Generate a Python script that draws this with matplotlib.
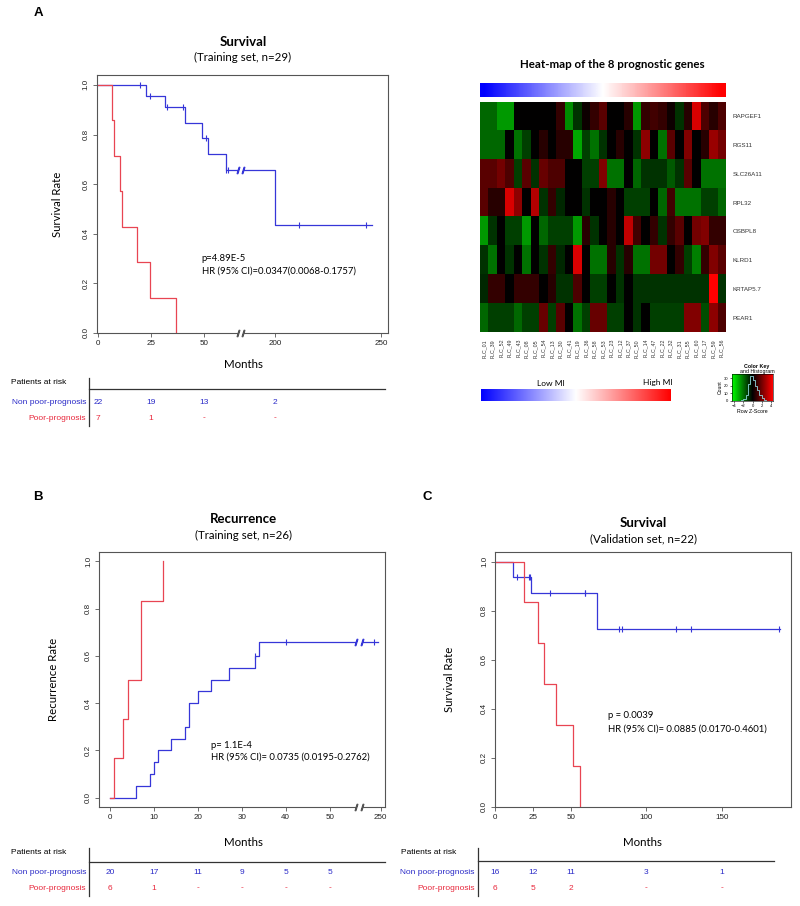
import numpy as np
import matplotlib.pyplot as plt
from matplotlib.colors import LinearSegmentedColormap
from matplotlib.transforms import blended_transform_factory

plt.rcParams['font.family'] = ['Liberation Sans', 'DejaVu Sans']

W, H = 800, 906
BLUE = '#3636d8'
RED = '#e84552'
TXT_BLUE = '#2a2ac8'
TXT_RED = '#e8283c'
GREY = '#555555'

# ---------------- data ----------------
# A: survival, training set
a_non_t = [0, 22.6, 31.9, 40.9, 48.9, 52.0, 60.2, 200, 245.6]
a_non_s = [1.0, 0.955, 0.909, 0.848, 0.788, 0.722, 0.657, 0.437, 0.437]
a_non_cens = [19.8, 24.8, 32.5, 40.1, 50.9, 60.6, 61.2, 211, 243]
a_poor_t = [0, 6.6, 7.7, 10.7, 11.6, 18.7, 24.8, 36.8]
a_poor_s = [1.0, 0.857, 0.714, 0.571, 0.429, 0.286, 0.143, 0.0]
a_ticks = [0, 25, 50, 200, 250]
a_risk_at = [0, 25, 50, 200]
a_risk_non = ['22', '19', '13', '2']
a_risk_poor = ['7', '1', '-', '-']

# B: recurrence, training set
b_non_t = [0, 6, 9, 10, 11, 14, 17, 18, 20, 23, 27, 33, 34, 249.4]
b_non_r = [0, 0.05, 0.10, 0.15, 0.20, 0.25, 0.30, 0.40, 0.45, 0.50, 0.55, 0.60, 0.658, 0.658]
b_non_cens = [33, 40, 248.6]
b_poor_t = [0, 1, 3, 4, 7, 12]
b_poor_r = [0, 0.167, 0.333, 0.5, 0.833, 1.0]
b_ticks = [0, 10, 20, 30, 40, 50, 250]
b_risk_at = [0, 10, 20, 30, 40, 50]
b_risk_non = ['20', '17', '11', '9', '5', '5']
b_risk_poor = ['6', '1', '-', '-', '-', '-']

# C: survival, validation set
c_non_t = [0, 11.7, 23.8, 67.5, 188.5]
c_non_s = [1.0, 0.9375, 0.870, 0.725, 0.725]
c_non_cens = [14.3, 22.3, 23.2, 36.6, 59.2, 59.6, 81.7, 84.1, 119.6, 129.6, 187.9]
c_poor_t = [0, 19.4, 28.3, 32.5, 40.6, 51.4, 56.5]
c_poor_s = [1.0, 0.833, 0.667, 0.5, 0.333, 0.167, 0.0]
c_ticks = [0, 25, 50, 100, 150]
c_risk_at = [0, 25, 50, 100, 150]
c_risk_non = ['16', '12', '11', '3', '1']
c_risk_poor = ['6', '5', '2', '-', '-']

# heat-map of the 8 prognostic genes
samples = ['FLC_01', 'FLC_39', 'FLC_52', 'FLC_49', 'FLC_43', 'FLC_08', 'FLC_05', 'FLC_54',
           'FLC_13', 'FLC_30', 'FLC_41', 'FLC_19', 'FLC_36', 'FLC_58', 'FLC_53', 'FLC_23',
           'FLC_12', 'FLC_37', 'FLC_50', 'FLC_14', 'FLC_47', 'FLC_22', 'FLC_32', 'FLC_31',
           'FLC_55', 'FLC_60', 'FLC_17', 'FLC_59', 'FLC_56']
genes = ['RAPGEF1', 'RGS11', 'SLC26A11', 'RPL32', 'OSBPL8', 'KLRD1', 'KRTAP5.7', 'PEAR1']
rapgef1 = [-0.4, -0.4, -0.6, -0.6, 0, 0, 0, 0, 0, 0.2, -0.55, -0.2, 0.05, 0.2, 0.35, 0, 0, 0.15,
           -0.6, 0.2, 0.25, 0.2, 0.05, -0.2, 0.15, 0.85, 0.3, 0.15, 0.3]
rgs11 = [-0.4, -0.4, -0.4, 0, -0.45, -0.25, 0, 0.15, 0, 0.15, 0.15, -0.65, -0.25, -0.45, -0.2, 0,
         0.15, 0, -0.2, 0.55, 0, -0.45, 0.35, 0, 0.5, 0, 0.15, 0.6, 0.45]
slc26a11 = [0.35, 0.35, 0.45, 0.3, -0.25, 0.35, -0.2, 0.4, 0.3, 0.3, 0, 0, -0.25, -0.25, 0.5,
            -0.45, -0.45, 0, -0.4, -0.2, -0.2, -0.2, -0.35, -0.2, 0.35, 0, -0.45, -0.45, -0.45]
rpl32 = [0.35, 0.15, 0.15, 0.85, 0.55, 0, 0.7, -0.2, 0.2, -0.15, 0, 0, -0.2, 0, 0, 0.15, 0,
         -0.25, -0.25, -0.25, 0, -0.4, 0.25, -0.45, -0.45, -0.45, -0.25, -0.25, -0.4]
osbpl8 = [-0.6, -0.2, 0, -0.25, -0.25, -0.6, 0, -0.4, -0.25, -0.25, -0.25, -0.6, 0.15, -0.2, 0,
          0.15, 0, 0.75, 0.25, 0, 0.2, -0.2, 0.2, 0.35, 0, 0.45, 0.5, 0.2, 0.2]
klrd1 = [-0.2, -0.45, 0, -0.2, 0, -0.45, 0, -0.2, 0.2, -0.15, 0, 0.85, 0, -0.45, -0.45, 0.15,
         -0.2, 0.15, -0.45, -0.45, 0.45, 0.45, 0, 0.2, -0.25, -0.5, 0.2, 0.5, 0.35]
krtap57 = [-0.15, 0.2, 0.2, 0, 0.2, 0.2, 0.2, 0, 0.15, -0.2, -0.2, 0.3, 0, -0.25, -0.25, 0, -0.2,
           0, -0.2, -0.2, -0.2, -0.2, -0.2, -0.2, -0.2, -0.2, -0.2, 1.0, -0.2]
pear1 = [-0.4, -0.25, -0.25, -0.25, -0.4, -0.25, -0.25, 0.4, -0.25, 0.35, 0, -0.45, -0.25, 0.4,
         0.4, -0.25, -0.25, 0, -0.2, 0, -0.25, -0.25, -0.25, -0.25, 0.5, 0.5, -0.3, 0.55, 0.3]
# colour key histogram (row z-scores)
key_edges = [-3, -2.5, -2, -1.5, -1, -0.5, 0, 0.5, 1, 1.5, 2, 2.5, 3]
key_counts = [0, 1, 3, 8, 22, 33, 28, 20, 14, 8, 4, 1]


# ---------------- helpers ----------------
def rect(x0, y0, x1, y1):
    return [x0 / W, 1 - y1 / H, (x1 - x0) / W, (y1 - y0) / H]


def ftext(x, y, s, **kw):
    fig.text(x / W, 1 - y / H, s, **kw)


def fline(x0, x1, y0, y1):
    fig.add_artist(plt.Line2D([x0 / W, x1 / W], [1 - y0 / H, 1 - y1 / H],
                              transform=fig.transFigure, color='#333333', lw=0.9))


def broken(lo, shift):
    def fwd(t):
        t = np.asarray(t, float)
        return np.where(t <= lo, t, np.where(t >= lo + shift, t - shift, lo))

    def inv(u):
        u = np.asarray(u, float)
        return np.where(u <= lo, u, u + shift)
    return fwd, inv


def step_at(ts, vs, x):
    i = np.searchsorted(ts, x, side='right') - 1
    return np.asarray(vs)[i]


def km(ax, t, s, cens, color):
    ax.step(t, s, where='post', color=color, lw=0.9)
    if cens:
        ax.plot(cens, [step_at(t, s, c) for c in cens], ls='none', marker='|',
                ms=5, mew=0.8, color=color)


def style(ax, ylabel, ylab_x, ticks):
    for sp in ax.spines.values():
        sp.set_color(GREY)
        sp.set_linewidth(0.8)
    ax.tick_params(length=3, width=0.6, color=GREY, labelsize=5.8, pad=2, labelcolor='#222222')
    ax.set_yticks([0, 0.2, 0.4, 0.6, 0.8, 1.0])
    ax.set_yticklabels(['0.0', '0.2', '0.4', '0.6', '0.8', '1.0'], rotation=90, va='center')
    ax.set_xticks(ticks)
    ax.set_xticklabels([str(v) for v in ticks])
    ax.set_ylabel(ylabel, family='Lato', fontsize=8.2)
    ax.yaxis.set_label_coords(ylab_x, 0.5)


def break_mark(ax, t0, t1, y, color):
    ax.plot([t0, t1], [y, y], color='white', lw=3, zorder=5, clip_on=False,
            solid_capstyle='butt')
    ax.plot([t0, t1], [y, y], ls='none', marker='$/$', ms=4.5, color=color,
            zorder=6, clip_on=False)


def risk_table(ax, lab_x, lab_right, vline_x, line_x1, y_head, y_hline, at, non, poor):
    ftext(lab_x, y_head, 'Patients at risk', fontsize=6, va='center', ha='left')
    fline(vline_x, vline_x, y_head - 5, y_head + 43)
    fline(vline_x, line_x1, y_hline, y_hline)
    ftext(lab_right, y_head + 20, 'Non poor-prognosis', fontsize=6, color=TXT_BLUE,
          ha='right', va='center')
    ftext(lab_right, y_head + 35, 'Poor-prognosis', fontsize=6, color=TXT_RED,
          ha='right', va='center')
    tr = blended_transform_factory(ax.transData, fig.transFigure)
    for x, n, p in zip(at, non, poor):
        ax.text(x, 1 - (y_head + 20) / H, n, transform=tr, fontsize=6, color=TXT_BLUE,
                ha='center', va='center')
        ax.text(x, 1 - (y_head + 35) / H, p, transform=tr, fontsize=6, color=TXT_RED,
                ha='center', va='center')


fig = plt.figure(figsize=(8, 9.06), dpi=100)

# ---------------- panel A: survival ----------------
ftext(38, 13, 'A', fontsize=9.5, fontweight='bold', ha='center', va='center')
ftext(243, 42, 'Survival', family='Lato', fontsize=9.5, fontweight='bold', ha='center', va='center')
ftext(243, 57, '(Training set, n=29)', family='Lato', fontsize=8.3, ha='center', va='center')
axA = fig.add_axes(rect(96.7, 75, 387.7, 333))
axA.set_xscale('function', functions=broken(66, 116.4))
km(axA, a_non_t, a_non_s, a_non_cens, BLUE)
km(axA, a_poor_t, a_poor_s, [], RED)
axA.set_xlim(-0.5, 253)
axA.set_ylim(0, 1.04)
style(axA, 'Survival Rate', -0.117, a_ticks)
break_mark(axA, 66.2, 185.0, 0.657, BLUE)
break_mark(axA, 66.2, 185.0, 0.0, GREY)
axA.text(49, 0.30, 'p=4.89E-5', family='Lato', fontsize=6.8, va='center')
axA.text(49, 0.248, 'HR (95% CI)=0.0347(0.0068-0.1757)', family='Lato', fontsize=6.8, va='center')
ftext(243, 365, 'Months', family='Lato', fontsize=8.3, ha='center', va='center')
risk_table(axA, 11, 86, 89, 385, 383, 389, a_risk_at, a_risk_non, a_risk_poor)

# ---------------- panel A: heat-map ----------------
gbr = LinearSegmentedColormap.from_list('gbr', [(0, 1, 0), (0, 0, 0), (1, 0, 0)])
ftext(612, 64, 'Heat-map of the 8 prognostic genes', family='Lato', fontsize=8.3,
      fontweight='bold', ha='center', va='center')
axTop = fig.add_axes(rect(480, 83, 726, 97))
axTop.imshow(np.linspace(-1, 1, len(samples))[None, :], cmap='bwr', aspect='auto',
             interpolation='bilinear')
axTop.axis('off')

axH = fig.add_axes(rect(480, 102, 726, 332))
mat = np.array([rapgef1, rgs11, slc26a11, rpl32, osbpl8, klrd1, krtap57, pear1])
axH.imshow(mat, cmap=gbr, vmin=-1, vmax=1, aspect='auto', interpolation='nearest')
axH.set_xticks(range(len(samples)))
axH.set_xticklabels(samples, rotation=90, fontsize=3.8, color='#333333')
axH.set_yticks(range(len(genes)))
axH.set_yticklabels(genes, fontsize=4.5, color='#333333')
axH.yaxis.tick_right()
axH.tick_params(length=0, pad=5)
for sp in axH.spines.values():
    sp.set_visible(False)

# MI gradient legend
ftext(551, 383, 'Low MI', family='Lato', fontsize=6, ha='center', va='center')
ftext(658, 383, 'High MI', family='Lato', fontsize=6, ha='center', va='center')
axMI = fig.add_axes(rect(481, 389, 671, 401))
axMI.imshow(np.linspace(-1, 1, 256)[None, :], cmap='bwr', aspect='auto')
axMI.axis('off')

# colour key with histogram
ftext(757, 366, 'Color Key', fontsize=3.8, fontweight='bold', ha='center', va='center')
ftext(757, 371, 'and Histogram', fontsize=3.8, ha='center', va='center')
axK = fig.add_axes(rect(732, 374, 773, 401))
axK.imshow(np.linspace(-4.5, 4.5, 256)[None, :], cmap=gbr, aspect='auto',
           extent=[-4.5, 4.5, 0, 36])
axK.stairs(key_counts, key_edges, color='#8fd8e0', lw=0.6)
axK.set_xlim(-4.5, 4.5)
axK.set_ylim(0, 36)
axK.set_xticks([-4, -2, 0, 2, 4])
axK.set_yticks([0, 10, 20, 30])
axK.tick_params(labelsize=3, length=1.5, width=0.4, pad=1)
axK.set_ylabel('Count', fontsize=3.6, labelpad=1)
axK.set_xlabel('Row Z-Score', fontsize=3.8, labelpad=0.5)
for sp in axK.spines.values():
    sp.set_linewidth(0.4)

# ---------------- panel B: recurrence ----------------
ftext(38, 497, 'B', fontsize=9.5, fontweight='bold', ha='center', va='center')
ftext(243, 519, 'Recurrence', family='Lato', fontsize=9.5, fontweight='bold', ha='center', va='center')
ftext(243, 535, '(Training set, n=26)', family='Lato', fontsize=8.3, ha='center', va='center')
axB = fig.add_axes(rect(99, 552, 385, 807))
axB.set_xscale('function', functions=broken(56.4, 188.4))
km(axB, b_non_t, b_non_r, b_non_cens, BLUE)
km(axB, b_poor_t, b_poor_r, [], RED)
axB.set_xlim(-2.5, 251)
axB.set_ylim(-0.04, 1.04)
style(axB, 'Recurrence Rate', -0.14, b_ticks)
break_mark(axB, 55.9, 245.8, 0.658, BLUE)
break_mark(axB, 55.9, 245.8, -0.04, GREY)
axB.text(22.9, 0.222, 'p= 1.1E-4', family='Lato', fontsize=6.8, va='center')
axB.text(22.9, 0.172, 'HR (95% CI)= 0.0735 (0.0195-0.2762)', family='Lato', fontsize=6.8,
         va='center')
ftext(243, 843, 'Months', family='Lato', fontsize=8.3, ha='center', va='center')
risk_table(axB, 11, 86, 89, 385, 853, 862, b_risk_at, b_risk_non, b_risk_poor)

# ---------------- panel C: survival validation ----------------
ftext(427, 497, 'C', fontsize=9.5, fontweight='bold', ha='center', va='center')
ftext(643, 523, 'Survival', family='Lato', fontsize=9.5, fontweight='bold', ha='center', va='center')
ftext(643, 539, '(Validation set, n=22)', family='Lato', fontsize=8.3, ha='center', va='center')
axC = fig.add_axes(rect(495, 551.7, 790.7, 806.7))
km(axC, c_non_t, c_non_s, c_non_cens, BLUE)
km(axC, c_poor_t, c_poor_s, [], RED)
axC.set_xlim(0, 195.5)
axC.set_ylim(0, 1.04)
style(axC, 'Survival Rate', -0.135, c_ticks)
axC.text(75, 0.37, 'p = 0.0039', family='Lato', fontsize=6.8, va='center')
axC.text(75, 0.318, 'HR (95% CI)= 0.0885 (0.0170-0.4601)', family='Lato', fontsize=6.8,
         va='center')
ftext(643, 842, 'Months', family='Lato', fontsize=8.3, ha='center', va='center')
risk_table(axC, 401, 474.7, 478, 774, 853, 861, c_risk_at, c_risk_non, c_risk_poor)

fig.savefig('out.png', dpi=100)
